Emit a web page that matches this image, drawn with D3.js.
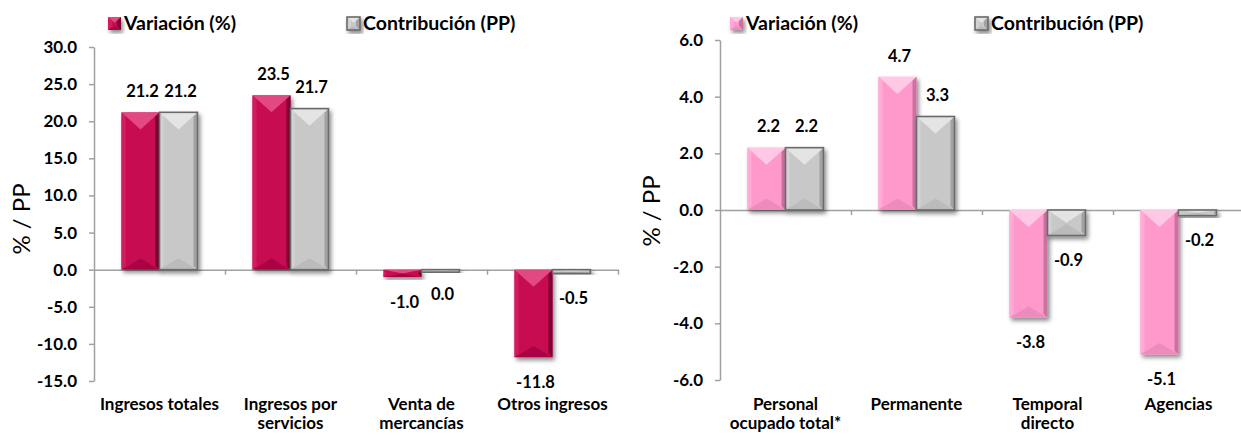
<!DOCTYPE html>
<html>
<head>
<meta charset="utf-8">
<script src="https://cdn.jsdelivr.net/npm/d3@7"></script>
<style>
  html, body { margin: 0; padding: 0; background: #fff; }
  svg { display: block; font-family: Lato, "Open Sans", sans-serif; }
</style>
</head>
<body>
<svg id="chart" width="1241" height="435"></svg>
<script>
// ---------- DATA ----------
const seriesNames = ["Variación (%)", "Contribución (PP)"];

const leftCategories = ["Ingresos totales", "Ingresos por\nservicios", "Venta de\nmercancías", "Otros ingresos"];
const leftVariacion = [21.2, 23.5, -1.0, -11.8];
const leftContribucion = [21.2, 21.7, 0.0, -0.5];
const leftTicks = [30, 25, 20, 15, 10, 5, 0, -5, -10, -15];

const rightCategories = ["Personal\nocupado total*", "Permanente", "Temporal\ndirecto", "Agencias"];
const rightVariacion = [2.2, 4.7, -3.8, -5.1];
const rightContribucion = [2.2, 3.3, -0.9, -0.2];
const rightTicks = [6, 4, 2, 0, -2, -4, -6];

// ---------- STYLES ----------
const crimson = { base: "#C70A50", light: "#E8588E", dark: "#7C0032", side: "#D21E60", stroke: null };
const pink    = { base: "#FF99CC", light: "#FFD3EA", dark: "#C9739F", side: "#FFABD5", stroke: null };
const gray    = { base: "#C8C8C8", light: "#EBEBEB", dark: "#A2A2A2", side: "#D2D2D2", stroke: "#6A6A6A" };
const axisColor = "#A0A0A0";
const FW = 700;

const svg = d3.select("#chart");
const defs = svg.append("defs");
const f = defs.append("filter").attr("id", "shadow").attr("x", "-30%").attr("y", "-30%").attr("width", "160%").attr("height", "160%");
f.append("feDropShadow").attr("dx", 2).attr("dy", 3).attr("stdDeviation", 2)
  .attr("flood-color", "#000").attr("flood-opacity", 0.45);

function bevelBar(g, x, yTop, w, h, c) {
  const y1 = yTop + h;
  const t = Math.min(w * 0.45, h / 2);
  const tb = Math.min(w * 0.3, h / 2);
  const s = Math.min(4, w / 2, h / 2);
  const bar = g.append("g").attr("filter", "url(#shadow)");
  bar.append("rect").attr("x", x).attr("y", yTop).attr("width", w).attr("height", h).attr("fill", c.base);
  bar.append("polygon").attr("points", [[x, yTop], [x + s, yTop + s], [x + s, y1 - s], [x, y1]].join(" ")).attr("fill", c.side);
  bar.append("polygon").attr("points", [[x + w, yTop], [x + w - s, yTop + s], [x + w - s, y1 - s], [x + w, y1]].join(" ")).attr("fill", c.dark);
  bar.append("polygon").attr("points", [[x, yTop], [x + w, yTop], [x + w / 2, yTop + t]].join(" ")).attr("fill", c.light).attr("opacity", 0.8);
  bar.append("polygon").attr("points", [[x, y1], [x + w, y1], [x + w / 2, y1 - tb]].join(" ")).attr("fill", c.dark).attr("opacity", 0.35);
  if (c.stroke) {
    bar.append("rect").attr("x", x).attr("y", yTop).attr("width", w).attr("height", h)
      .attr("fill", "none").attr("stroke", c.stroke).attr("stroke-width", 1.6);
  }
}

function drawPanel(o) {
  const g = svg.append("g");
  const x = d3.scaleBand().domain(o.categories).range(o.xRange).paddingInner(0).paddingOuter(0);
  const bw = x.bandwidth();
  const sub = d3.scaleBand().domain(seriesNames).range([bw * 0.21, bw * 0.79]).padding(0);
  const y = d3.scaleLinear().domain(o.yDomain).range(o.yRange);

  // y axis
  const yAxis = d3.axisLeft(y).tickValues(o.ticks).tickSize(5).tickSizeOuter(0).tickPadding(12)
    .tickFormat(d => d.toFixed(1));
  const ya = g.append("g").attr("transform", `translate(${o.xRange[0]},0)`).call(yAxis);
  ya.select(".domain").attr("stroke", axisColor).attr("stroke-width", 1.5);
  ya.selectAll(".tick line").attr("stroke", axisColor).attr("stroke-width", 1.5);
  ya.selectAll(".tick text").attr("fill", "#000").attr("font-size", 17).attr("font-weight", FW)
    .attr("font-family", "Lato, sans-serif");

  // baseline with boundary ticks
  const bnd = d3.scaleLinear().domain([0, o.categories.length]).range(o.xRange);
  const xAxis = d3.axisBottom(bnd).tickValues(d3.range(1, o.categories.length + 1)).tickSize(5).tickSizeOuter(0).tickFormat("");
  const xa = g.append("g").attr("transform", `translate(0,${y(0)})`).call(xAxis);
  xa.select(".domain").attr("stroke", axisColor).attr("stroke-width", 1.5);
  xa.selectAll(".tick line").attr("stroke", axisColor).attr("stroke-width", 1.5);

  // bars
  const series = [
    { name: seriesNames[0], values: o.variacion, color: o.varColor },
    { name: seriesNames[1], values: o.contribucion, color: gray }
  ];
  const barsG = g.append("g");
  series.forEach(s => {
    o.categories.forEach((cat, i) => {
      const v = s.values[i];
      const bx = x(cat) + sub(s.name);
      const w = sub.bandwidth();
      let top = Math.min(y(v), y(0));
      let h = Math.abs(y(v) - y(0));
      if (h < 2.5) h = 2.5;
      bevelBar(barsG, bx, top, w, h, s.color);
    });
  });

  // labels
  series.forEach(s => {
    g.append("g").selectAll("text").data(o.categories).join("text")
      .attr("x", (c) => x(c) + sub(s.name) + sub.bandwidth() / 2 + 2)
      .attr("y", (c, i) => s.values[i] > 0 ? y(s.values[i]) - 21 : y(s.values[i]) + 25)
      .attr("dy", "0.35em")
      .attr("text-anchor", "middle")
      .attr("font-size", 16.5).attr("font-weight", FW).attr("fill", "#000")
      .text((c, i) => s.values[i].toFixed(1));
  });

  // category labels
  const cl = g.append("g").selectAll("text").data(o.categories).join("text")
    .attr("x", c => x(c) + bw / 2)
    .attr("y", 410)
    .attr("text-anchor", "middle")
    .attr("font-size", 17).attr("font-weight", FW).attr("fill", "#000");
  cl.each(function (c) {
    const lines = c.split("\n");
    d3.select(this).selectAll("tspan").data(lines).join("tspan")
      .attr("x", x(c) + bw / 2)
      .attr("dy", (d, j) => j === 0 ? 0 : 19)
      .text(d => d);
  });

  // y title
  g.append("text")
    .attr("transform", `translate(${o.titleX},${o.titleY}) rotate(-90)`)
    .attr("text-anchor", "middle").attr("dy", "0.35em")
    .attr("font-size", 24).attr("fill", "#000")
    .text("% / PP");

  // legend
  const lg = g.append("g");
  const legendItems = [
    { name: seriesNames[0], color: o.varColor, x: o.legendX[0] },
    { name: seriesNames[1], color: gray, x: o.legendX[1] }
  ];
  legendItems.forEach(it => {
    bevelBar(lg, it.x, 17, 13, 13, it.color);
    lg.append("text").attr("x", it.x + 16).attr("y", 23.5).attr("dy", "0.35em")
      .attr("font-size", 19.5).attr("font-weight", FW).attr("fill", "#000").text(it.name);
  });
}

drawPanel({
  categories: leftCategories, variacion: leftVariacion, contribucion: leftContribucion, ticks: leftTicks,
  xRange: [94, 618], yDomain: [-15, 30], yRange: [381, 47],
  varColor: crimson, titleX: 22, titleY: 219, legendX: [108, 347]
});
drawPanel({
  categories: rightCategories, variacion: rightVariacion, contribucion: rightContribucion, ticks: rightTicks,
  xRange: [720, 1244], yDomain: [-6, 6], yRange: [380, 40],
  varColor: pink, titleX: 652, titleY: 211, legendX: [730, 975]
});
</script>
</body>
</html>
